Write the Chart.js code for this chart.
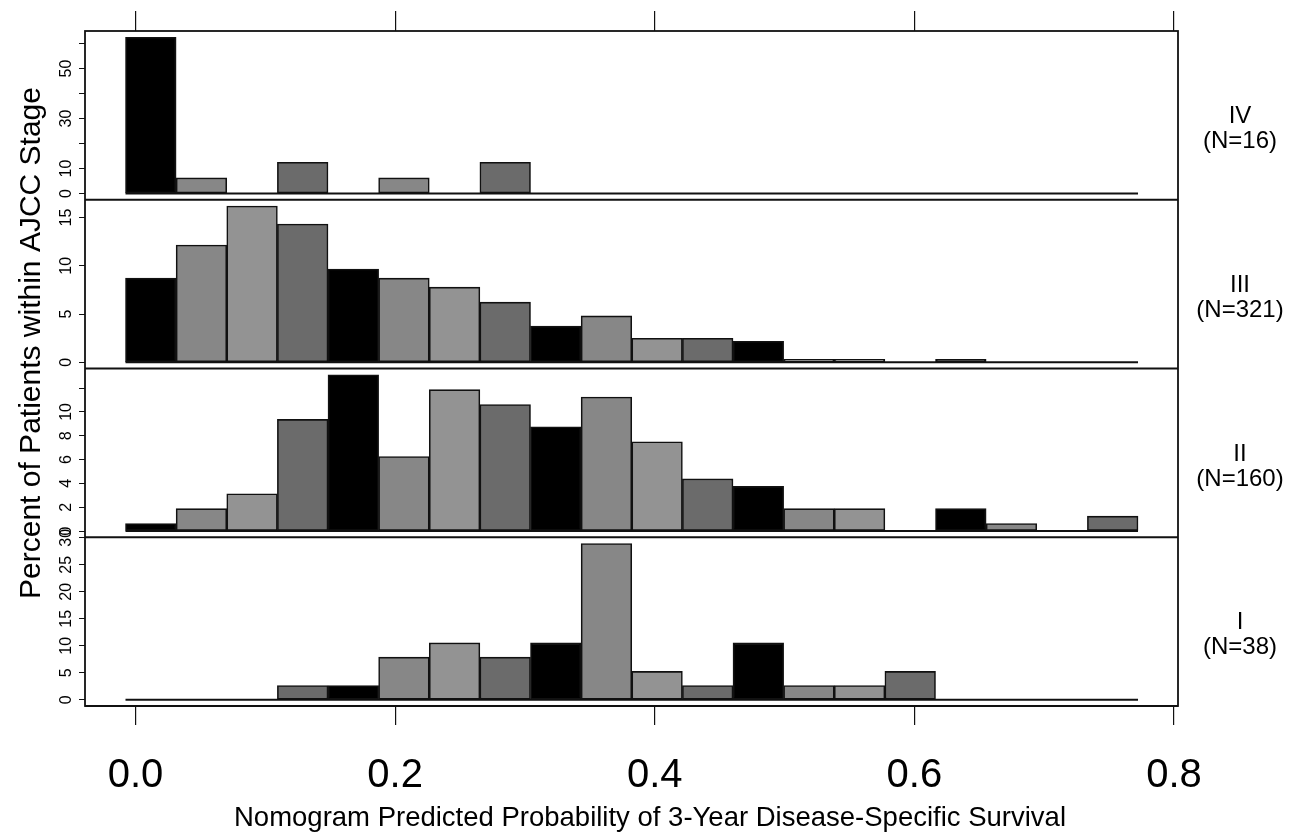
<!DOCTYPE html>
<html><head><meta charset="utf-8">
<script src="https://cdn.jsdelivr.net/npm/chart.js@4/dist/chart.umd.min.js"></script>
<style>html,body{margin:0;padding:0;background:#fff;} canvas{display:block;}</style>
</head><body>
<canvas id="c" width="1299" height="836"></canvas>
<script>
// ---- data ----
const binCenters = [0.0118, 0.0508, 0.0898, 0.1288, 0.1678, 0.2068, 0.2458, 0.2848, 0.3238, 0.3628,
                    0.4018, 0.4408, 0.4798, 0.5188, 0.5578, 0.5968, 0.6358, 0.6748, 0.7138, 0.7528];
const binRange = [-0.0077, 0.7723];
const stageNames = ['IV', 'III', 'II', 'I'];
const stageN = [16, 321, 160, 38];
const pctIV  = [62.5, 6.25, 0, 12.5, 0, 6.25, 0, 12.5, 0, 0, 0, 0, 0, 0, 0, 0, 0, 0, 0, 0];
const pctIII = [8.72, 12.15, 16.20, 14.33, 9.66, 8.72, 7.79, 6.23, 3.74, 4.8, 2.49, 2.49, 2.18, 0.31, 0.31, 0, 0.31, 0, 0, 0];
const pctII  = [0.625, 1.875, 3.125, 9.375, 13.125, 6.25, 11.875, 10.625, 8.75, 11.25, 7.5, 4.375, 3.75, 1.875, 1.875, 0, 1.875, 0.625, 0, 1.25];
const pctI   = [0, 0, 0, 2.63, 2.63, 7.89, 10.53, 7.89, 10.53, 28.95, 5.26, 2.63, 10.53, 2.63, 2.63, 5.26, 0, 0, 0, 0];
const xTicks = [0, 0.2, 0.4, 0.6, 0.8];
const xTickLabels = ['0.0', '0.2', '0.4', '0.6', '0.8'];
const yTicksIV  = [0, 10, 20, 30, 40, 50, 60];
const yLabelsIV = ['0', '10', '', '30', '', '50', ''];
const yTicksIII  = [0, 5, 10, 15];
const yLabelsIII = ['0', '5', '10', '15'];
const yTicksII  = [0, 2, 4, 6, 8, 10, 12];
const yLabelsII = ['0', '2', '4', '6', '8', '10', ''];
const yTicksI  = [0, 5, 10, 15, 20, 25, 30];
const yLabelsI = ['0', '5', '10', '15', '20', '25', '30'];
const xTitle = 'Nomogram Predicted Probability of 3-Year Disease-Specific Survival';
const yTitle = 'Percent of Patients within AJCC Stage';

// ---- style ----
const palette = ['#000000', '#878787', '#939393', '#6b6b6b'];
const binColors = binCenters.map((c, i) => palette[i % palette.length]);
const FONT = "'Liberation Sans', Arial, Helvetica, sans-serif";
const INK = '#111111';

const panels = [
  {id: 'yIV',  name: stageNames[0], n: stageN[0], values: pctIV,  ticks: yTicksIV,  labels: yLabelsIV},
  {id: 'yIII', name: stageNames[1], n: stageN[1], values: pctIII, ticks: yTicksIII, labels: yLabelsIII},
  {id: 'yII',  name: stageNames[2], n: stageN[2], values: pctII,  ticks: yTicksII,  labels: yLabelsII},
  {id: 'yI',   name: stageNames[3], n: stageN[3], values: pctI,   ticks: yTicksI,   labels: yLabelsI}
];

const datasets = [];
const scales = {
  x: {
    type: 'linear', position: 'bottom', min: -0.0389, max: 0.8031, offset: false,
    afterBuildTicks: s => { s.ticks = xTicks.map(v => ({value: v})); },
    afterFit: s => { s.height = 130; },
    grid: {offset: false, drawOnChartArea: false, drawTicks: true, tickLength: 19, color: INK, lineWidth: 1.2},
    border: {display: false},
    ticks: {autoSkip: false, maxRotation: 0, minRotation: 0, padding: 27, color: '#000',
            font: {family: FONT, size: 40}, callback: (v, i) => xTickLabels[i]}
  },
  xTop: {
    type: 'linear', position: 'top', min: -0.0389, max: 0.8031, offset: false,
    afterBuildTicks: s => { s.ticks = xTicks.map(v => ({value: v})); },
    afterFit: s => { s.height = 31; },
    grid: {offset: false, drawOnChartArea: false, drawTicks: true, tickLength: 20, color: INK, lineWidth: 1.2},
    border: {display: false},
    ticks: {display: false}
  }
};

// stacked left scales: the last declared is placed on top, so declare bottom panel first
panels.slice().reverse().forEach(p => {
  const maxV = Math.max(...p.values);
  scales[p.id] = {
    type: 'linear', position: 'left', stack: 'panels', stackWeight: 1,
    min: -0.04 * maxV, max: 1.04 * maxV,
    afterBuildTicks: s => { s.ticks = p.ticks.map(v => ({value: v})); },
    afterFit: s => { s.width = 85; },
    grid: {drawOnChartArea: false, drawTicks: true, tickLength: 6, color: INK, lineWidth: 1},
    border: {display: false},
    ticks: {autoSkip: false, minRotation: 90, maxRotation: 90, crossAlign: 'center', padding: 4,
            color: '#000', font: {family: FONT, size: 16}, callback: (v, i) => p.labels[i]}
  };
});

panels.forEach(p => {
  datasets.push({
    type: 'bar', label: p.name, xAxisID: 'x', yAxisID: p.id,
    data: binCenters.map((c, i) => ({x: c, y: p.values[i]})),
    backgroundColor: binColors, borderColor: INK, borderWidth: 1.6, borderSkipped: false,
    grouped: false, barPercentage: 1, categoryPercentage: 1, order: 1
  });
  datasets.push({
    type: 'line', label: p.name + ' base', xAxisID: 'x', yAxisID: p.id,
    data: binRange.map(x => ({x: x, y: 0})),
    borderColor: INK, borderWidth: 2, pointRadius: 0, order: 2
  });
});

const decor = {
  id: 'decor',
  afterDatasetsDraw(chart) {
    const {ctx, chartArea: a} = chart;
    ctx.save();
    ctx.strokeStyle = INK; ctx.lineWidth = 1.8;
    ctx.strokeRect(a.left, a.top, a.right - a.left, a.bottom - a.top);
    panels.forEach(p => {
      const s = chart.scales[p.id];
      ctx.beginPath(); ctx.moveTo(a.left, s.bottom); ctx.lineTo(a.right, s.bottom); ctx.stroke();
    });
    ctx.restore();
  },
  afterDraw(chart) {
    const {ctx} = chart;
    ctx.save();
    ctx.fillStyle = '#000';
    ctx.textAlign = 'center'; ctx.textBaseline = 'middle';
    ctx.font = '24px ' + FONT;
    panels.forEach(p => {
      const s = chart.scales[p.id];
      const cy = (s.top + s.bottom) / 2;
      ctx.fillText(p.name, 1240, cy + 1);
      ctx.fillText('(N=' + p.n + ')', 1240, cy + 26);
    });
    ctx.font = '27.5px ' + FONT;
    ctx.fillText(xTitle, 650, 818);
    ctx.translate(32, 343);
    ctx.rotate(-Math.PI / 2);
    ctx.font = '30px ' + FONT;
    ctx.fillText(yTitle, 0, 0);
    ctx.restore();
  }
};

new Chart(document.getElementById('c'), {
  type: 'bar',
  data: {datasets: datasets},
  options: {
    responsive: false, animation: false,
    layout: {padding: {left: 0, right: 121, top: 0, bottom: 0}},
    plugins: {legend: {display: false}, tooltip: {enabled: false}},
    scales: scales
  },
  plugins: [decor]
});
</script>
</body></html>
